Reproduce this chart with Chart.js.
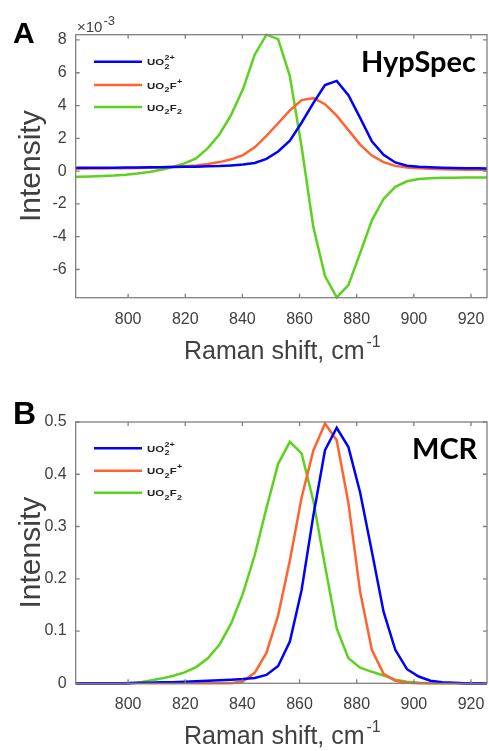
<!DOCTYPE html>
<html lang="en">
<head>
<meta charset="UTF-8">
<title>HypSpec vs MCR spectra</title>
<script src="https://cdn.jsdelivr.net/npm/chart.js"></script>
<style>
  body { margin: 0; background: #fff; }
  .fig { position: relative; width: 489px; height: 751px; }
  .panel { position: absolute; left: 0; }
  #panelA { top: 0; }
  #panelB { top: 375px; }
</style>
</head>
<body>
<div class="fig">
  <div class="panel" id="panelA"><canvas id="hypSpecChart" width="489" height="375"></canvas></div>
  <div class="panel" id="panelB"><canvas id="mcrChart" width="489" height="376"></canvas></div>
</div>
<script>
// Raman shift, cm-1
const ramanShift = [778.7, 782.8, 786.9, 791.0, 795.1, 799.2, 803.3, 807.4, 811.5, 815.6,
  819.7, 823.8, 827.9, 832.0, 836.1, 840.2, 844.3, 848.4, 852.5, 856.6,
  860.7, 864.8, 868.9, 873.0, 877.1, 881.2, 885.3, 889.4, 893.5, 897.6,
  901.7, 905.8, 909.9, 914.0, 918.1, 922.2, 926.3];

const speciesNames = ['UO₂²⁺', 'UO₂F⁺', 'UO₂F₂'];

// HypSpec intensities (x10^-3)
const hypUO2 = [0.20, 0.20, 0.20, 0.21, 0.21, 0.22, 0.22, 0.23, 0.24, 0.25,
  0.26, 0.27, 0.29, 0.31, 0.35, 0.40, 0.50, 0.75, 1.20, 1.85,
  2.95, 4.15, 5.25, 5.50, 4.63, 3.25, 1.82, 1.00, 0.53, 0.33,
  0.26, 0.23, 0.21, 0.19, 0.18, 0.17, 0.16];
const hypUO2F = [0.15, 0.15, 0.16, 0.16, 0.17, 0.18, 0.19, 0.21, 0.23, 0.26,
  0.30, 0.35, 0.43, 0.55, 0.72, 0.98, 1.45, 2.15, 2.92, 3.70,
  4.33, 4.45, 4.08, 3.38, 2.50, 1.62, 0.95, 0.55, 0.32, 0.22,
  0.17, 0.14, 0.12, 0.10, 0.09, 0.08, 0.07];
const hypUO2F2 = [-0.36, -0.35, -0.33, -0.30, -0.27, -0.22, -0.15, -0.05, 0.08, 0.25,
  0.47, 0.78, 1.40, 2.25, 3.45, 5.00, 7.10, 8.32, 8.05, 5.80,
  1.50, -3.40, -6.40, -7.70, -6.95, -5.00, -3.00, -1.70, -0.96, -0.62,
  -0.48, -0.43, -0.41, -0.40, -0.39, -0.39, -0.38];

// MCR intensities
const mcrUO2 = [0, 0, 0, 0, 0, 0, 0.001, 0.001, 0.002, 0.002,
  0.003, 0.004, 0.005, 0.006, 0.007, 0.008, 0.010, 0.016, 0.033, 0.080,
  0.178, 0.320, 0.446, 0.489, 0.452, 0.365, 0.252, 0.137, 0.064, 0.027,
  0.013, 0.005, 0.002, 0.001, 0, 0, 0];
const mcrUO2F = [0, 0, 0, 0, 0, 0, 0, 0, 0, 0,
  0, 0, 0, 0, 0, 0.004, 0.020, 0.058, 0.130, 0.235,
  0.355, 0.445, 0.497, 0.465, 0.345, 0.175, 0.064, 0.018, 0.005, 0.001,
  0, 0, 0, 0, 0, 0, 0];
const mcrUO2F2 = [0, 0, 0, 0, 0, 0, 0.001, 0.005, 0.009, 0.014,
  0.021, 0.031, 0.048, 0.074, 0.115, 0.172, 0.245, 0.335, 0.420, 0.462,
  0.440, 0.350, 0.225, 0.105, 0.048, 0.030, 0.022, 0.015, 0.007, 0.003,
  0.001, 0, 0, 0, 0, 0, 0];

const lineColors = ['#0000ff', '#ff6430', '#5cd21e'];
const tickFont = { family: "'Liberation Sans', Arial, sans-serif", size: 16 };
const textGray = '#404040';

function toPoints(ys) {
  return ramanShift.map((x, i) => ({ x: x, y: ys[i] }));
}

function makeDatasets(series) {
  return series.map((ys, i) => ({
    label: speciesNames[i],
    data: toPoints(ys),
    borderColor: lineColors[i],
    borderWidth: 2.5,
    pointRadius: 0,
    tension: 0,
    clip: { left: 0, right: 0, top: 2, bottom: 2 },
  }));
}

// draws UO₂²⁺ style strings with real sub/superscripts (slightly widened like the original)
function drawFormula(ctx, str, x, y) {
  const SUB = '₀₁₂₃₄₅₆₇₈₉', SUP = '⁰¹²³⁴⁵⁶⁷⁸⁹⁺⁻', PLAIN = '0123456789+-';
  const tokens = [];
  for (const ch of str) {
    let type = 'n', c = ch;
    if (SUB.includes(ch)) { type = 'sub'; c = PLAIN[SUB.indexOf(ch)]; }
    else if (SUP.includes(ch)) { type = 'sup'; c = PLAIN[SUP.indexOf(ch)]; }
    const last = tokens[tokens.length - 1];
    if (last && last.type === type) last.text += c;
    else tokens.push({ type: type, text: c });
  }
  ctx.save();
  ctx.translate(x, y);
  ctx.scale(1.2, 1);
  let cx = 0;
  let pending = 0;
  tokens.forEach(t => {
    if (t.type === 'n') {
      cx += pending; pending = 0;
      ctx.font = "bold 9.5px 'Liberation Sans', Arial, sans-serif";
      ctx.fillText(t.text, cx, 3.5);
      cx += ctx.measureText(t.text).width;
    } else {
      ctx.font = "bold 7.5px 'Liberation Sans', Arial, sans-serif";
      ctx.fillText(t.text, cx + 0.3, t.type === 'sub' ? 7 : -1.5);
      pending = Math.max(pending, ctx.measureText(t.text).width + 0.5);
    }
  });
  ctx.restore();
}

const figureDecor = {
  id: 'figureDecor',
  afterDraw(chart, args, opts) {
    const { ctx, chartArea: a, scales } = chart;
    ctx.save();

    // box + inward ticks
    ctx.strokeStyle = '#808080';
    ctx.lineWidth = 1.3;
    ctx.strokeRect(a.left, a.top, a.right - a.left, a.bottom - a.top);
    ctx.beginPath();
    scales.x.ticks.forEach(t => {
      const px = scales.x.getPixelForValue(t.value);
      ctx.moveTo(px, a.bottom); ctx.lineTo(px, a.bottom - 4);
      ctx.moveTo(px, a.top); ctx.lineTo(px, a.top + 4);
    });
    scales.y.ticks.forEach(t => {
      const py = scales.y.getPixelForValue(t.value);
      ctx.moveTo(a.left, py); ctx.lineTo(a.left + 4, py);
      ctx.moveTo(a.right, py); ctx.lineTo(a.right - 4, py);
    });
    ctx.stroke();

    // axis titles
    ctx.fillStyle = textGray;
    ctx.textBaseline = 'alphabetic';
    const xt = 'Raman shift, cm';
    ctx.font = "25px 'Liberation Sans', Arial, sans-serif";
    const w1 = ctx.measureText(xt).width;
    ctx.font = "16px 'Liberation Sans', Arial, sans-serif";
    const w2 = ctx.measureText('-1').width;
    const x0 = (a.left + a.right) / 2 - (w1 + w2) / 2;
    const by = a.bottom + 61;
    ctx.font = "25px 'Liberation Sans', Arial, sans-serif";
    ctx.fillText(xt, x0, by);
    ctx.font = "16px 'Liberation Sans', Arial, sans-serif";
    ctx.fillText('-1', x0 + w1 + 2, by - 12);

    ctx.save();
    ctx.translate(40, (a.top + a.bottom) / 2);
    ctx.rotate(-Math.PI / 2);
    ctx.textAlign = 'center';
    ctx.font = "30px 'Liberation Sans', Arial, sans-serif";
    ctx.fillText('Intensity', 0, 0);
    ctx.restore();

    if (opts.exponent) {
      ctx.font = "15px 'Liberation Sans', Arial, sans-serif";
      ctx.fillText('×10', 77, 31.7);
      const ew = ctx.measureText('×10').width;
      ctx.font = "13px 'Liberation Sans', Arial, sans-serif";
      ctx.fillText('-3', 77 + ew + 1, 25);
    }

    // panel letter and method tag
    ctx.fillStyle = '#000';
    ctx.font = "bold " + opts.tagSize + "px 'Liberation Sans', Arial, sans-serif";
    ctx.fillText(opts.tag, 13, opts.tagY);
    ctx.font = "bold 29px Lato, 'Open Sans', sans-serif";
    ctx.fillText(opts.method, opts.methodX, opts.methodY);

    // legend
    chart.data.datasets.forEach((ds, i) => {
      const ly = opts.legendY[i];
      ctx.strokeStyle = ds.borderColor;
      ctx.lineWidth = 2.5;
      ctx.beginPath();
      ctx.moveTo(94, ly); ctx.lineTo(142, ly);
      ctx.stroke();
      ctx.fillStyle = '#222';
      drawFormula(ctx, ds.label, 147, ly);
    });
    ctx.restore();
  }
};

function axisOpts(min, max, step, pad, fit) {
  return {
    type: 'linear', min: min, max: max,
    ticks: { stepSize: step, includeBounds: false, font: tickFont, color: textGray, maxRotation: 0, padding: pad },
    grid: { display: false, drawTicks: false, tickLength: 0 },
    border: { display: false },
    afterFit: s => {
      fit(s);
      // keep the plot box fixed; labels may overhang
      s.paddingLeft = 0; s.paddingRight = 0; s.paddingTop = 0; s.paddingBottom = 0;
    },
  };
}

function renderPanel(canvasId, series, yMin, yMax, yStep, padTop, deco) {
  const canvas = document.getElementById(canvasId);
  const h = canvas.height;
  const bottom = deco.plotBottom;
  new Chart(canvas, {
    type: 'line',
    data: { datasets: makeDatasets(series) },
    options: {
      responsive: false,
      animation: false,
      layout: { padding: { left: 0, right: 2, top: padTop, bottom: 0 } },
      plugins: { legend: { display: false }, tooltip: { enabled: false }, figureDecor: deco },
      scales: {
        x: axisOpts(781.65, 925.6, 20, 12, s => { s.height = h - bottom; }),
        y: axisOpts(yMin, yMax, yStep, 9, s => { s.width = 75.7; }),
      },
    },
    plugins: [figureDecor],
  });
}

renderPanel('hypSpecChart', [hypUO2, hypUO2F, hypUO2F2], -7.72, 8.32, 2, 34.7, {
  plotBottom: 297.7, exponent: true, tag: 'A', tagSize: 30, tagY: 42.7,
  method: 'HypSpec', methodX: 361, methodY: 71.7, legendY: [61.7, 85, 107],
});
renderPanel('mcrChart', [mcrUO2, mcrUO2F, mcrUO2F2], 0, 0.5, 0.1, 47, {
  plotBottom: 308.3, exponent: false, tag: 'B', tagSize: 32, tagY: 49,
  method: 'MCR', methodX: 412, methodY: 84, legendY: [73.3, 95.7, 117.7],
});
</script>
</body>
</html>
